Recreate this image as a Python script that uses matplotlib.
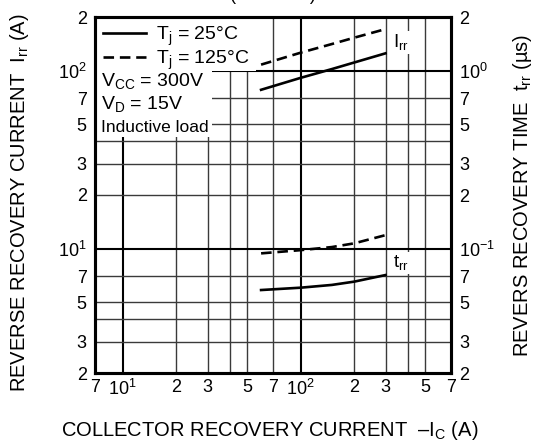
import matplotlib
matplotlib.use("Agg")
from matplotlib import pyplot as plt
from matplotlib.patches import Rectangle

plt.rcParams['font.family'] = ['Liberation Sans', 'DejaVu Sans']
plt.rcParams['mathtext.fontset'] = 'custom'
plt.rcParams['mathtext.rm'] = 'Liberation Sans'

# collector recovery current -Ic (A)
ic = [60, 100, 150, 200, 300]
# reverse recovery current Irr (A)
irr_25 = [78, 91, 102, 111, 125]
irr_125 = [108, 126, 141, 153, 171]
# reverse recovery time trr (us)
trr_25 = [0.0585, 0.0603, 0.0625, 0.0652, 0.071]
trr_125 = [0.094, 0.098, 0.102, 0.107, 0.119]

x_major = [10, 100]
x_major_labels = [r'$\mathregular{10^1}$', r'$\mathregular{10^2}$']
x_minor = [7, 20, 30, 40, 50, 70, 200, 300, 400, 500, 700]
x_minor_labels = ['7', '2', '3', '', '5', '7', '2', '3', '', '5', '7']

y_major = [10, 100]
y_major_labels = [r'$\mathregular{10^1}$', r'$\mathregular{10^2}$']
y_minor = [2, 3, 4, 5, 7, 20, 30, 40, 50, 70, 200]
y_minor_labels = ['2', '3', '', '5', '7', '2', '3', '', '5', '7', '2']

y2_major = [0.1, 1]
y2_major_labels = [r'$\mathregular{10^{-1}}$', r'$\mathregular{10^0}$']
y2_minor = [0.02, 0.03, 0.04, 0.05, 0.07, 0.2, 0.3, 0.4, 0.5, 0.7, 2]

fig = plt.figure(figsize=(5.35, 4.46), dpi=100)
ax = fig.add_axes([95/535, 1 - 373/446, 356/535, 356/446])
ax2 = ax.twinx()

ax.set_xscale('log')
ax.set_yscale('log')
ax2.set_yscale('log')
ax.set_xlim(7, 700)
ax.set_ylim(2, 200)
ax2.set_ylim(0.02, 2)

ax.set_xticks(x_major)
ax.set_xticklabels(x_major_labels)
ax.set_xticks(x_minor, minor=True)
ax.set_xticklabels(x_minor_labels, minor=True)
ax.set_yticks(y_major)
ax.set_yticklabels(y_major_labels)
ax.set_yticks(y_minor, minor=True)
ax.set_yticklabels(y_minor_labels, minor=True)
ax2.set_yticks(y2_major)
ax2.set_yticklabels(y2_major_labels)
ax2.set_yticks(y2_minor, minor=True)
ax2.set_yticklabels(y_minor_labels, minor=True)

for a in (ax, ax2):
    a.tick_params(which='both', length=0, labelsize=13, pad=6)
    for s in a.spines.values():
        s.set_linewidth(2.2)
ax.tick_params(axis='x', which='both', pad=4)

ax.grid(which='major', color='k', lw=1.5)
ax.grid(which='minor', color='#3a3a3a', lw=1.0)

# white areas behind the legend and conditions
ax.add_patch(Rectangle((0, 0.663), 0.329, 0.337, transform=ax.transAxes,
                       facecolor='white', edgecolor='none', zorder=2))
ax.add_patch(Rectangle((0, 0.848), 0.452, 0.152, transform=ax.transAxes,
                       facecolor='white', edgecolor='none', zorder=2))

l1, = ax.plot(ic, irr_25, color='k', lw=1.9, zorder=3)
l2, = ax.plot(ic, irr_125, color='k', lw=1.9, ls=(0, (4, 2.2)), zorder=3)
ax2.plot(ic, trr_25, color='k', lw=1.9)
ax2.plot(ic, trr_125, color='k', lw=1.9, ls=(0, (4, 2.2)))

leg = ax.legend([l1, l2], [r'$\mathregular{T_j}$ = 25°C', r'$\mathregular{T_j}$ = 125°C'],
                loc='upper left', frameon=False, fontsize=14, handlelength=2.2,
                handletextpad=0.55, borderaxespad=0.1, borderpad=0.3,
                labelspacing=0.02)
leg.set_zorder(5)

ax.text(0.016, 0.821, r'$\mathregular{V_{CC}}$ = 300V', transform=ax.transAxes,
        fontsize=14, va='center', zorder=5)
ax.text(0.016, 0.757, r'$\mathregular{V_D}$ = 15V', transform=ax.transAxes,
        fontsize=14, va='center', zorder=5)
ax.text(0.016, 0.691, 'Inductive load', transform=ax.transAxes,
        fontsize=12.5, va='center', zorder=5)

ax.text(330, 144, r'$\mathregular{I_{rr}}$', fontsize=13.5, va='center', zorder=5,
        bbox=dict(facecolor='white', edgecolor='none', pad=1))
ax2.text(330, 0.083, r'$\mathregular{t_{rr}}$', fontsize=13.5, va='center', zorder=5,
         bbox=dict(facecolor='white', edgecolor='none', pad=1))

fig.text(20/535, 1 - 203/446, r'REVERSE RECOVERY CURRENT  $\mathregular{I_{rr}}$ (A)',
         rotation=90, ha='center', va='center', fontsize=14.5)
fig.text(523/535, 1 - 195/446, r'REVERS RECOVERY TIME  $\mathregular{t_{rr}}$ (µs)',
         rotation=90, ha='center', va='center', fontsize=14.5)
fig.text(270/535, 1 - 430/446, r'COLLECTOR RECOVERY CURRENT  –$\mathregular{I_C}$ (A)',
         ha='center', va='center', fontsize=14.5)
fig.text(273/535, 1.0, '(TYPICAL)', ha='center', va='baseline', fontsize=13)

fig.savefig('out.png', dpi=100)
